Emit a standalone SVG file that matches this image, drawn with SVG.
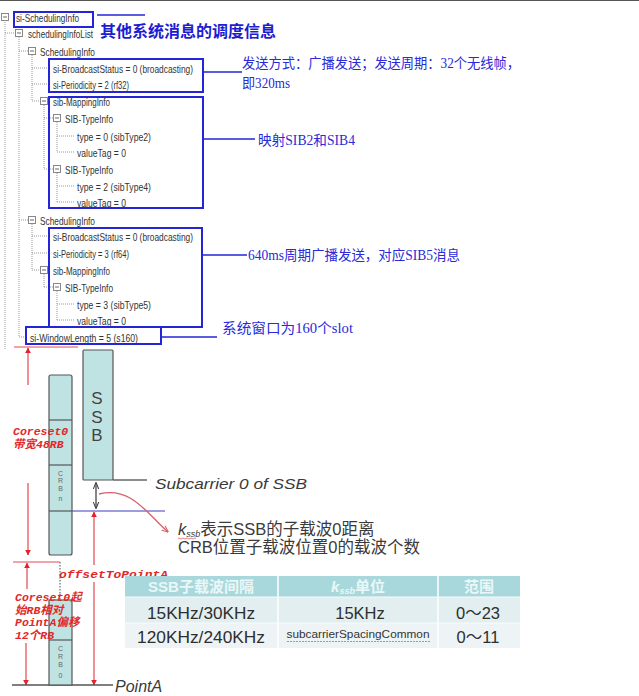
<svg xmlns="http://www.w3.org/2000/svg" width="639" height="696" viewBox="0 0 639 696">
<style>
.tree{font-family:"Liberation Sans","DejaVu Sans",sans-serif;font-size:11.5px;fill:#333}
.tl{stroke:#9a9a9a;stroke-width:1;stroke-dasharray:1 1;fill:none}
.ico{fill:#fff;stroke:#888;stroke-width:1}
.bbox{fill:none;stroke:#2525d8;stroke-width:2}
.bl{stroke:#2525d8;stroke-width:1.3;fill:none}
.btxt{font-family:"Liberation Serif","Noto Sans CJK SC",serif;font-size:14px;fill:#2a2ad8}
.red{stroke:#e5484d;stroke-width:1.2;fill:none}
.rtxt{font-family:"Liberation Mono","Noto Sans CJK SC",monospace;font-style:italic;font-size:11.5px;font-weight:bold;fill:#e02828}
.col{fill:#bfe3e3;stroke:#555;stroke-width:1.2}
.div{stroke:#555;stroke-width:1.2}
.crb{font-family:"Liberation Sans",sans-serif;font-size:7px;fill:#666;text-anchor:middle}
.gtxt{font-family:"Liberation Sans","Noto Sans CJK SC",sans-serif;fill:#3a3a3a}
.th{font-family:"Liberation Sans","Noto Sans CJK SC",sans-serif;font-size:15px;font-weight:bold;fill:#e9f7f8;text-anchor:middle}
.td{font-family:"Liberation Sans","Noto Sans CJK SC",sans-serif;font-size:16.5px;fill:#2e2e2e;text-anchor:middle}
</style>
<defs>
<marker id="ra" viewBox="0 0 10 10" refX="9" refY="5" markerWidth="6" markerHeight="6" orient="auto-start-reverse" markerUnits="userSpaceOnUse">
<path d="M0,0 L10,5 L0,10 z" fill="#e5202a"/>
</marker>
<marker id="ga" viewBox="0 0 10 10" refX="9" refY="5" markerWidth="7" markerHeight="7" orient="auto-start-reverse" markerUnits="userSpaceOnUse">
<path d="M0,1 L10,5 L0,9" fill="none" stroke="#444" stroke-width="1.5"/>
</marker>
<marker id="ca" viewBox="0 0 10 10" refX="9" refY="5" markerWidth="7" markerHeight="7" orient="auto" markerUnits="userSpaceOnUse">
<path d="M0,1 L10,5 L0,9" fill="none" stroke="#d9606a" stroke-width="1.5"/>
</marker>
</defs>

<line x1="0" y1="0.5" x2="639" y2="0.5" stroke="#555" stroke-width="1"/>

<g id="connectors">
<path class="tl" d="M5,22 V350 M5,33 H15 M19,37 V337 M19,51 H28 M19,220 H28 M19,337 H26
M32,55 V101 M32,68 H50 M32,84 H50 M32,101 H40
M44,105 V169 M44,118 H53 M44,169 H53
M57,122 V152 M57,136 H75 M57,152 H75
M57,173 V202 M57,186 H75 M57,202 H75
M32,224 V270 M32,236 H50 M32,253 H50 M32,270 H40
M44,274 V287 M44,287 H53
M57,291 V320 M57,304 H75 M57,320 H75"/>
<line class="bl" x1="97" y1="15" x2="145" y2="15"/>
<line class="bl" x1="203" y1="72" x2="242" y2="72"/>
<line class="bl" x1="203" y1="139" x2="255" y2="139"/>
<line class="bl" x1="202" y1="255" x2="247" y2="255"/>
<line class="bl" x1="161" y1="337" x2="217" y2="337"/>
<line class="red" x1="14" y1="347" x2="78" y2="347"/>
<line class="red" x1="28" y1="385" x2="28" y2="348" marker-end="url(#ra)"/>
<line class="red" x1="28" y1="483" x2="28" y2="555" marker-end="url(#ra)"/>
<line class="red" x1="13" y1="562" x2="60" y2="562"/>
<line class="red" x1="27" y1="589" x2="27" y2="563" marker-end="url(#ra)"/>
<line class="red" x1="26" y1="643" x2="26" y2="685" marker-end="url(#ra)"/>
<line class="red" x1="94" y1="565" x2="94" y2="512" marker-end="url(#ra)"/>
<line class="red" x1="94" y1="582" x2="94" y2="685" marker-end="url(#ra)"/>
<line x1="60" y1="562" x2="60" y2="600" stroke="#888" stroke-width="1.5" stroke-dasharray="1.5 1.5"/>
<line x1="113" y1="480" x2="147" y2="480" stroke="#666" stroke-width="1.3"/>
<line x1="72" y1="511" x2="165" y2="511" stroke="#3a3ac0" stroke-width="1"/>
<line x1="96" y1="483" x2="96" y2="508" stroke="#444" stroke-width="1.3" marker-start="url(#ga)" marker-end="url(#ga)"/>
<path d="M99,494 C132,486 148,515 168,532" fill="none" stroke="#d9606a" stroke-width="1.3" marker-end="url(#ca)"/>
<line x1="12" y1="685" x2="113" y2="685" stroke="#555" stroke-width="1.5"/>
</g>

<g id="tree">
<g class="ico">
<rect x="1.5" y="13.5" width="7" height="7"/><rect x="15.5" y="29.5" width="7" height="7"/>
<rect x="28.5" y="47.5" width="7" height="7"/><rect x="40.5" y="97.5" width="7" height="7"/>
<rect x="53.5" y="114.5" width="7" height="7"/><rect x="53.5" y="165.5" width="7" height="7"/>
<rect x="28.5" y="216.5" width="7" height="7"/><rect x="40.5" y="266.5" width="7" height="7"/>
<rect x="53.5" y="283.5" width="7" height="7"/>
</g>
<path stroke="#666" stroke-width="1" d="M3,17 H7 M17,33 H21 M30,51 H34 M42,101 H46 M55,118 H59 M55,169 H59 M30,220 H34 M42,270 H46 M55,287 H59"/>
<text class="tree" x="16" y="21.5" textLength="63" lengthAdjust="spacingAndGlyphs">si-SchedulingInfo</text>
<text class="tree" x="28" y="38" textLength="65" lengthAdjust="spacingAndGlyphs">schedulingInfoList</text>
<text class="tree" x="40" y="55.5" textLength="55" lengthAdjust="spacingAndGlyphs">SchedulingInfo</text>
<text class="tree" x="53" y="72.5" textLength="140" lengthAdjust="spacingAndGlyphs">si-BroadcastStatus = 0 (broadcasting)</text>
<text class="tree" x="53" y="88.5" textLength="76" lengthAdjust="spacingAndGlyphs">si-Periodicity = 2 (rf32)</text>
<text class="tree" x="53" y="105.5" textLength="57" lengthAdjust="spacingAndGlyphs">sib-MappingInfo</text>
<text class="tree" x="65" y="122.5" textLength="48" lengthAdjust="spacingAndGlyphs">SIB-TypeInfo</text>
<text class="tree" x="77" y="140.5" textLength="74" lengthAdjust="spacingAndGlyphs">type = 0 (sibType2)</text>
<text class="tree" x="77" y="156.5" textLength="49" lengthAdjust="spacingAndGlyphs">valueTag = 0</text>
<text class="tree" x="65" y="173.5" textLength="48" lengthAdjust="spacingAndGlyphs">SIB-TypeInfo</text>
<text class="tree" x="77" y="190.5" textLength="74" lengthAdjust="spacingAndGlyphs">type = 2 (sibType4)</text>
<text class="tree" x="77" y="206.5" textLength="49" lengthAdjust="spacingAndGlyphs">valueTag = 0</text>
<text class="tree" x="40" y="224.5" textLength="55" lengthAdjust="spacingAndGlyphs">SchedulingInfo</text>
<text class="tree" x="53" y="240.5" textLength="140" lengthAdjust="spacingAndGlyphs">si-BroadcastStatus = 0 (broadcasting)</text>
<text class="tree" x="53" y="257.5" textLength="76" lengthAdjust="spacingAndGlyphs">si-Periodicity = 3 (rf64)</text>
<text class="tree" x="53" y="274.5" textLength="57" lengthAdjust="spacingAndGlyphs">sib-MappingInfo</text>
<text class="tree" x="65" y="291.5" textLength="48" lengthAdjust="spacingAndGlyphs">SIB-TypeInfo</text>
<text class="tree" x="77" y="308.5" textLength="74" lengthAdjust="spacingAndGlyphs">type = 3 (sibType5)</text>
<text class="tree" x="77" y="324.5" textLength="49" lengthAdjust="spacingAndGlyphs">valueTag = 0</text>
<text class="tree" x="30" y="341.5" textLength="108" lengthAdjust="spacingAndGlyphs">si-WindowLength = 5 (s160)</text>
</g>

<g id="box-root"><rect class="bbox" x="14" y="12" width="79" height="15"/></g>
<g id="box-sched1"><rect class="bbox" x="49" y="59" width="154" height="33"/></g>
<g id="box-mapping1"><rect class="bbox" x="49" y="97" width="154" height="111"/></g>
<g id="box-sched2"><rect class="bbox" x="49" y="228" width="153" height="99"/></g>
<g id="box-window"><rect class="bbox" x="26" y="327" width="135" height="17"/></g>

<g id="notes">
<text x="100" y="37" font-family="'Noto Sans CJK SC',sans-serif" font-size="16px" font-weight="bold" fill="#1d1dd0" textLength="176" lengthAdjust="spacingAndGlyphs">其他系统消息的调度信息</text>
<text class="btxt" x="242" y="68" textLength="278" lengthAdjust="spacingAndGlyphs">发送方式：广播发送；发送周期：32个无线帧，</text>
<text class="btxt" x="242" y="88" textLength="48" lengthAdjust="spacingAndGlyphs">即320ms</text>
<text class="btxt" x="258" y="145" textLength="97" lengthAdjust="spacingAndGlyphs">映射SIB2和SIB4</text>
<text class="btxt" x="248" y="260" textLength="212" lengthAdjust="spacingAndGlyphs">640ms周期广播发送，对应SIB5消息</text>
<text class="btxt" x="222" y="333" textLength="131" lengthAdjust="spacingAndGlyphs">系统窗口为160个slot</text>
</g>

<g id="crb-column">
<rect class="col" x="49" y="375" width="23" height="180" rx="2"/>
<line class="div" x1="49" y1="420" x2="72" y2="420"/>
<line class="div" x1="49" y1="465" x2="72" y2="465"/>
<line class="div" x1="49" y1="511" x2="72" y2="511"/>
<text class="crb" x="60.5" y="476">C</text>
<text class="crb" x="60.5" y="483">R</text>
<text class="crb" x="60.5" y="491">B</text>
<text class="crb" x="60.5" y="501">n</text>
<rect class="col" x="49" y="600" width="23" height="85"/>
<line class="div" x1="49" y1="640" x2="72" y2="640"/>
<text class="crb" x="60.5" y="651">C</text>
<text class="crb" x="60.5" y="659">R</text>
<text class="crb" x="60.5" y="667">B</text>
<text class="crb" x="60.5" y="678">0</text>
</g>

<g id="ssb">
<rect class="col" x="83" y="350" width="30" height="130" rx="1"/>
<g font-family="'Liberation Sans',sans-serif" font-size="17px" fill="#444" text-anchor="middle">
<text x="97" y="404">S</text>
<text x="97" y="423">S</text>
<text x="97" y="441">B</text>
</g>
</g>

<g id="labels">
<text class="rtxt" x="13" y="435">Coreset0</text>
<text class="rtxt" x="13" y="448">带宽48RB</text>
<text class="rtxt" x="15" y="601">Coreset0起</text>
<text class="rtxt" x="15" y="613.5">始RB相对</text>
<text class="rtxt" x="15" y="626">PointA偏移</text>
<text class="rtxt" x="15" y="638.5">12个RB</text>
<text class="rtxt" x="59" y="578" font-size="13px" textLength="109" lengthAdjust="spacingAndGlyphs">offsetToPointA</text>
<text class="gtxt" x="155" y="489" font-size="15px" font-style="italic" textLength="152" lengthAdjust="spacingAndGlyphs">Subcarrier 0 of SSB</text>
<text class="gtxt" x="115" y="692" font-size="16px" font-style="italic">PointA</text>
<text class="gtxt" x="178" y="535" font-size="16.5px"><tspan font-style="italic">k</tspan><tspan font-size="9px" font-style="italic" dy="2">ssb</tspan><tspan dy="-2">表示SSB的子载波0距离</tspan></text>
<path d="M178,538.5 q1,-1 2,0 t2,0 t2,0 t2,0 t2,0 t2,0 t2,0 t2,0 t2,0" fill="none" stroke="#d9606a" stroke-width="0.8"/>
<text class="gtxt" x="178" y="553" font-size="16.5px">CRB位置子载波位置0的载波个数</text>
</g>

<g id="table">
<rect x="125" y="576" width="395" height="21" fill="#a9d8dc"/>
<rect x="125" y="597" width="395" height="26" fill="#e2eef0"/>
<rect x="125" y="623" width="395" height="25" fill="#eef4f5"/>
<line x1="278" y1="576" x2="278" y2="648" stroke="#fff" stroke-width="1.5"/>
<line x1="438" y1="576" x2="438" y2="648" stroke="#fff" stroke-width="1.5"/>
<line x1="125" y1="597" x2="520" y2="597" stroke="#f6fafa" stroke-width="1"/>
<line x1="125" y1="623" x2="520" y2="623" stroke="#f6fafa" stroke-width="1"/>
<text class="th" x="201" y="592">SSB子载波间隔</text>
<text class="th" x="358" y="592"><tspan font-style="italic">k</tspan><tspan font-size="9px" font-style="italic" dy="2">ssb</tspan><tspan dy="-2">单位</tspan></text>
<text class="th" x="479" y="592">范围</text>
<text class="td" x="201" y="619" textLength="108" lengthAdjust="spacingAndGlyphs">15KHz/30KHz</text>
<text class="td" x="360" y="619">15KHz</text>
<text class="td" x="478" y="619">0～23</text>
<text class="td" x="201" y="643" textLength="128" lengthAdjust="spacingAndGlyphs">120KHz/240KHz</text>
<text x="358" y="638" font-family="'Liberation Sans',sans-serif" font-size="10.5px" fill="#333" text-anchor="middle" textLength="143" lengthAdjust="spacingAndGlyphs">subcarrierSpacingCommon</text>
<path d="M287,641.5 h143" fill="none" stroke="#d9606a" stroke-width="0.8" stroke-dasharray="2 1"/>
<text class="td" x="478" y="643">0～11</text>
</g>
</svg>
